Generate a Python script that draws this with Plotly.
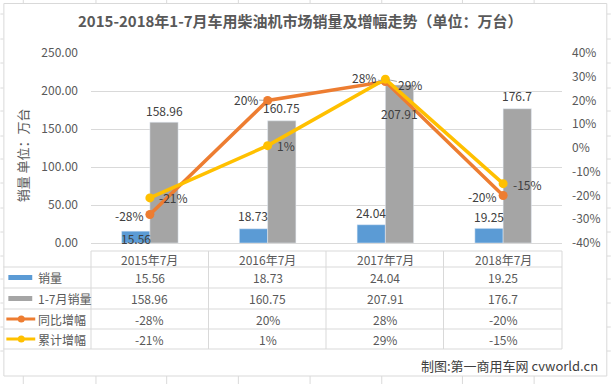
import plotly.graph_objects as go

# ---------------- data ----------------
categories = ["2015年7月", "2016年7月", "2017年7月", "2018年7月"]
sales = [15.56, 18.73, 24.04, 19.25]            # 销量 (万台)
ytd_sales = [158.96, 160.75, 207.91, 176.7]     # 1-7月销量 (万台)
yoy_growth = [-28, 20, 28, -20]                 # 同比增幅 (%)
ytd_growth = [-21, 1, 29, -15]                  # 累计增幅 (%)

series_names = ["销量", "1-7月销量", "同比增幅", "累计增幅"]
left_ticks = [0, 50, 100, 150, 200, 250]
left_tick_labels = ["0.00", "50.00", "100.00", "150.00", "200.00", "250.00"]
right_ticks = [-40, -30, -20, -10, 0, 10, 20, 30, 40]
right_tick_labels = ["-40%", "-30%", "-20%", "-10%", "0%", "10%", "20%", "30%", "40%"]

title_text = "2015-2018年1-7月车用柴油机市场销量及增幅走势（单位：万台）"
yaxis_title = "销量&nbsp;单位：万台"
credit_text = "制图:第一商用车网 cvworld.cn"

# ---------------- style ----------------
W, H = 613, 384
L, R, T, B = 91, 49, 53, 141
PW, PH = W - L - R, H - T - B
BLUE, GRAY, ORANGE, YELLOW = "#5B9BD5", "#A5A5A5", "#ED7D31", "#FFC000"
TXT, LBL, GRID = "#595959", "#404040", "#D9D9D9"
FONT = "Noto Sans CJK SC, Noto Sans, sans-serif"


def px(xp):
    return (xp - L) / PW


def py(yp):
    return (H - B - yp) / PH


fig = go.Figure()

fig.add_trace(go.Bar(x=categories, y=sales, name=series_names[0],
                     marker_color=BLUE, showlegend=False, hoverinfo="skip"))
fig.add_trace(go.Bar(x=categories, y=ytd_sales, name=series_names[1],
                     marker_color=GRAY, showlegend=False, hoverinfo="skip"))
fig.add_trace(go.Scatter(x=categories, y=yoy_growth, name=series_names[2], yaxis="y2",
                         mode="lines+markers", line=dict(color=ORANGE, width=3.5),
                         marker=dict(size=9, color=ORANGE), showlegend=False,
                         hoverinfo="skip"))
fig.add_trace(go.Scatter(x=categories, y=ytd_growth, name=series_names[3], yaxis="y2",
                         mode="lines+markers", line=dict(color=YELLOW, width=3.5),
                         marker=dict(size=9, color=YELLOW), showlegend=False,
                         hoverinfo="skip"))

annotations = []
shapes = []

# bar value labels
blue_dy = [-7, 13, 12, 12]
gray_dy = [12, 13, -29, 13]
for i, c in enumerate(categories):
    annotations.append(dict(x=c, y=sales[i], xref="x", yref="y", text=str(sales[i]),
                            showarrow=False, xshift=-14.3, yshift=blue_dy[i],
                            font=dict(size=12, color=LBL, family=FONT)))
    annotations.append(dict(x=c, y=ytd_sales[i], xref="x", yref="y", text=str(ytd_sales[i]),
                            showarrow=False, xshift=14.3, yshift=gray_dy[i],
                            font=dict(size=12, color=LBL, family=FONT)))

# line value labels (dx, dy in px, leader line)
yoy_pos = [(-20, 1, False), (-22, -1, True), (-21, -4, True), (-21, 1, False)]
ytd_pos = [(24, 0, False), (18, 0, False), (25, 5, True), (24, 1, False)]
for vals, pos in ((yoy_growth, yoy_pos), (ytd_growth, ytd_pos)):
    for i, c in enumerate(categories):
        dx, dy, leader = pos[i]
        a = dict(x=c, y=vals[i], xref="x", yref="y2", text=f"{vals[i]}%",
                 font=dict(size=12, color=LBL, family=FONT))
        if leader:
            a.update(showarrow=True, ax=dx, ay=dy, arrowhead=0, arrowwidth=1,
                     arrowcolor="#A6A6A6", standoff=4)
        else:
            a.update(showarrow=False, xshift=dx, yshift=-dy)
        annotations.append(a)

# ---------------- data table ----------------
col_edges = [91, 209, 327, 445, 564]
row_lines = [267, 288, 309, 329, 349]
row_centers = [277.5, 298.5, 319, 339]
header_center = 259

line_style = dict(color=GRID, width=1)
shapes.append(dict(type="line", xref="paper", yref="paper", x0=px(91), x1=px(564),
                   y0=py(251), y1=py(251), line=line_style))
for yl in row_lines:
    shapes.append(dict(type="line", xref="paper", yref="paper", x0=px(3), x1=px(564),
                       y0=py(yl), y1=py(yl), line=line_style))
for xe in col_edges:
    shapes.append(dict(type="line", xref="paper", yref="paper", x0=px(xe), x1=px(xe),
                       y0=py(251), y1=py(349), line=line_style))

for i, c in enumerate(categories):
    annotations.append(dict(x=c, y=py(header_center), xref="x", yref="paper", text=c,
                            showarrow=False, yanchor="middle",
                            font=dict(size=12, color=TXT, family=FONT)))

table_rows = [
    [str(v) for v in sales],
    [str(v) for v in ytd_sales],
    [f"{v}%" for v in yoy_growth],
    [f"{v}%" for v in ytd_growth],
]
for r, row in enumerate(table_rows):
    yc = py(row_centers[r])
    annotations.append(dict(x=px(36), y=yc, xref="paper", yref="paper",
                            text=series_names[r], showarrow=False,
                            xanchor="left", yanchor="middle",
                            font=dict(size=12, color=TXT, family=FONT)))
    for i, c in enumerate(categories):
        annotations.append(dict(x=c, y=yc, xref="x", yref="paper", text=row[i],
                                showarrow=False, yanchor="middle",
                                font=dict(size=12, color=TXT, family=FONT)))

# legend keys inside table
for r, col in enumerate([BLUE, GRAY]):
    yc = row_centers[r]
    shapes.append(dict(type="rect", xref="paper", yref="paper",
                       x0=px(8), x1=px(32), y0=py(yc + 2.5), y1=py(yc - 2.5),
                       fillcolor=col, line=dict(width=0)))
for r, col in [(2, ORANGE), (3, YELLOW)]:
    yc = row_centers[r]
    shapes.append(dict(type="line", xref="paper", yref="paper",
                       x0=px(6), x1=px(35), y0=py(yc), y1=py(yc),
                       line=dict(color=col, width=3)))
    shapes.append(dict(type="circle", xref="paper", yref="paper",
                       x0=px(17.5), x1=px(24.5), y0=py(yc + 3.5), y1=py(yc - 3.5),
                       fillcolor=col, line=dict(width=0)))

# ---------------- chart frame & sheet gridlines ----------------
sheet = "#DADADA"
for xs in [23, 96, 167, 239, 311, 383, 464, 536]:
    shapes.append(dict(type="line", xref="paper", yref="paper", layer="below",
                       x0=px(xs), x1=px(xs), y0=py(0), y1=py(3), line=dict(color=sheet, width=1)))
    shapes.append(dict(type="line", xref="paper", yref="paper", layer="below",
                       x0=px(xs), x1=px(xs), y0=py(376), y1=py(384), line=dict(color=sheet, width=1)))
for ys in [14, 39, 63, 88, 111, 136, 159, 183, 208, 232, 256, 279, 303, 327, 351]:
    shapes.append(dict(type="line", xref="paper", yref="paper", layer="below",
                       x0=px(0), x1=px(3), y0=py(ys), y1=py(ys), line=dict(color=sheet, width=1)))
    shapes.append(dict(type="line", xref="paper", yref="paper", layer="below",
                       x0=px(609), x1=px(613), y0=py(ys), y1=py(ys), line=dict(color=sheet, width=1)))
shapes.append(dict(type="rect", xref="paper", yref="paper", layer="below",
                   x0=px(3.5), x1=px(609), y0=py(3.5), y1=py(376),
                   line=dict(color=GRID, width=1), fillcolor="rgba(0,0,0,0)"))

# titles
annotations.append(dict(x=px(22), y=py(155), xref="paper", yref="paper",
                        text=yaxis_title, textangle=-90, showarrow=False,
                        xanchor="center", yanchor="middle",
                        font=dict(size=13, color=TXT, family=FONT)))
annotations.append(dict(x=px(602), y=py(365), xref="paper", yref="paper", text=credit_text,
                        showarrow=False, xanchor="right", yanchor="middle",
                        font=dict(size=13, color=LBL, family=FONT)))
annotations.append(dict(x=px(301), y=py(21), xref="paper", yref="paper",
                        text=f"<b>{title_text}</b>", showarrow=False,
                        xanchor="center", yanchor="middle",
                        font=dict(size=15, color=TXT, family=FONT)))

fig.update_layout(
    width=W, height=H,
    margin=dict(l=L, r=R, t=T, b=B),
    paper_bgcolor="white", plot_bgcolor="white",
    font=dict(family=FONT, color=TXT, size=12),
    barmode="group", bargap=0.52, bargroupgap=0,
    hovermode=False,
    xaxis=dict(showticklabels=False, ticks="", showline=True, linecolor=GRID,
               showgrid=False, zeroline=False, fixedrange=True),
    yaxis=dict(range=[0, 250], tickvals=left_ticks, ticktext=left_tick_labels,
               showgrid=True, gridcolor=GRID, zeroline=False, ticks="",
               ticklabelstandoff=12, tickfont=dict(size=12, color=TXT, family=FONT)),
    yaxis2=dict(range=[-40, 40], tickvals=right_ticks, ticktext=right_tick_labels,
                overlaying="y", side="right", showgrid=False, zeroline=False,
                ticks="", ticklabelstandoff=9, tickfont=dict(size=12, color=TXT, family=FONT)),
    annotations=annotations,
    shapes=shapes,
)

fig.write_html("out.html", config={"displayModeBar": False},
               post_script="document.body.style.margin='0px';")
